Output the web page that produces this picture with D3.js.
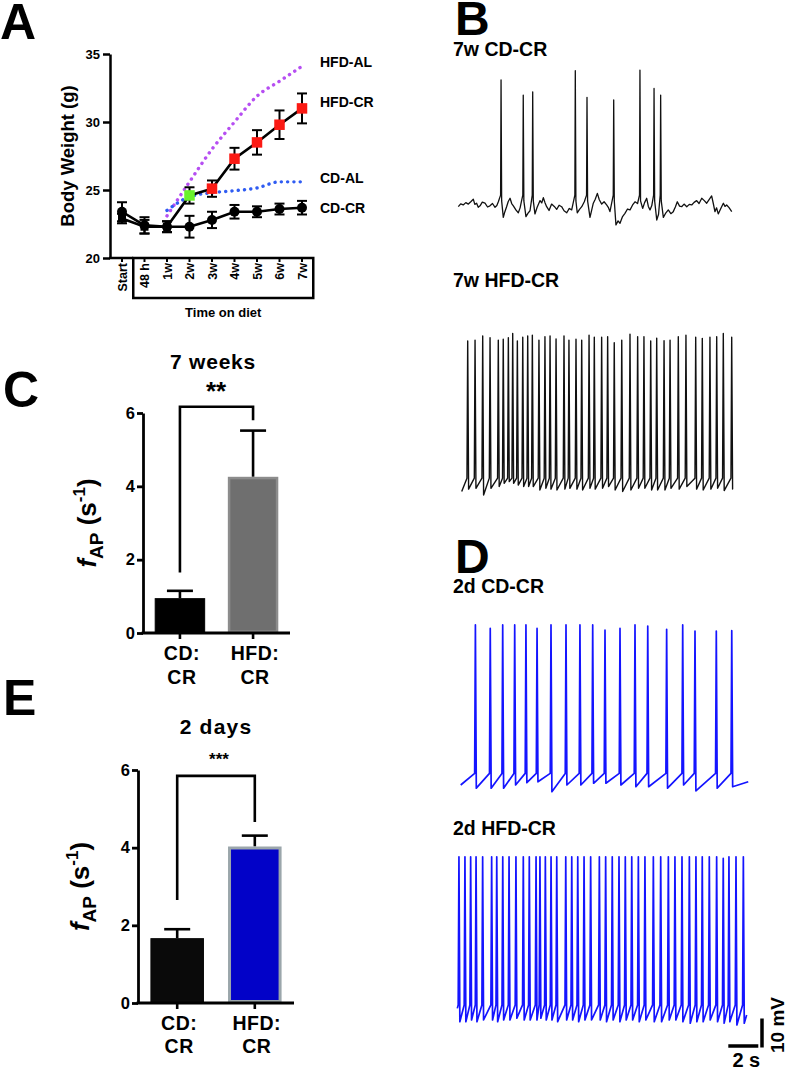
<!DOCTYPE html>
<html><head><meta charset="utf-8">
<script src="https://cdn.jsdelivr.net/npm/d3@7"></script>
<style>
body{margin:0;background:#fff}
svg{display:block}
text{font-family:"Liberation Sans",Arial,Helvetica,sans-serif;font-weight:bold;fill:#000}
</style>
</head><body>
<svg id="fig" width="787" height="1070"></svg>
<script>
// ---------------- DATA ----------------
// Panel A: body weight (g)
const timePoints = ["Start","48 h","1w","2w","3w","4w","5w","6w","7w"];
const weightTicks = [20,25,30,35];
const cdcrWeight  = [23.4,22.4,22.3,22.3,22.8,23.4,23.4,23.6,23.7];
const cdcrSEM     = [0.7,0.6,0.4,0.8,0.6,0.5,0.4,0.4,0.5];
const hfdcrWeight = [22.9,22.3,22.3,24.6,25.1,27.3,28.5,29.8,31.0];
const hfdcrSEM    = [0.35,0.5,0.4,0.6,0.6,0.8,0.9,1.05,1.1];
const hfdalWeight = [null,null,23.1,25.6,28.0,30.0,31.9,33.0,34.1];
const cdalWeight  = [null,null,23.5,24.5,24.8,24.95,25.15,25.6,25.6];
const seriesNames = ["HFD-AL","HFD-CR","CD-AL","CD-CR"];
const seriesNameAt = [34.45,31.5,25.85,23.7];

// Panels C & E: firing frequency (s^-1)
const groupLines = [["CD:","CR"],["HFD:","CR"]];
const rateTicks = [0,2,4,6];
const weeks7Mean = [0.95,4.26];
const weeks7SEM  = [0.2,1.26];
const days2Mean  = [1.67,4.03];
const days2SEM   = [0.23,0.28];
const bracket7w  = [1.65,6.17,5.8];   // left start, top, right end
const bracket2d  = [2.65,5.85,4.66];

// Panel B: 7w CD-CR trace (time s, membrane potential mV)
const cd7wBaseline = [[0,-60],[0.16,-59],[0.33,-59.4],[0.5,-58.6],[0.67,-59.1],[0.85,-58.2],[1.0,-57.4],[1.1,-59.2],[1.22,-58.8],[1.33,-60.2],[1.45,-59.7],[1.6,-58.4],[1.78,-58.8],[1.95,-60.1],[2.11,-59.7],[2.28,-58.9],[2.45,-60.2],[2.57,-59.6],[2.67,-58.3],
 [3.0,-63.7],[3.1,-61.8],[3.22,-60],[3.33,-58.2],[3.45,-57.1],[3.56,-58.9],[3.67,-59.7],[3.85,-61.2],[4.0,-62.1],[4.12,-60.4],[4.22,-57.9],
 [4.51,-63.4],[4.65,-62.2],[4.78,-61.4],[5.11,-62.5],[5.25,-60.3],[5.45,-57.9],[5.56,-58.7],[5.67,-56.9],[5.78,-58.6],[5.89,-60],[6.05,-61.3],[6.22,-59.1],[6.4,-59.9],[6.56,-60.9],[6.72,-59.5],[6.89,-60],[7.05,-61.4],[7.23,-62.1],[7.4,-60.6],[7.56,-61.1],
 [7.93,-62.1],[8.08,-60.9],[8.23,-60],[8.4,-58.3],[8.78,-63.7],[9.0,-58.8],[9.13,-57.4],[9.27,-55.4],[9.4,-57.6],[9.56,-59.1],[9.72,-58.3],[9.89,-59.4],[10.0,-60.2],[10.11,-61.7],
 [10.51,-66.3],[10.65,-64.9],[10.78,-65.7],[10.95,-63.4],[11.11,-62.3],[11.28,-60.8],[11.45,-61.1],[11.62,-59.4],[11.78,-58.3],[11.95,-58.9],
 [12.29,-60.6],[12.42,-58.6],[12.56,-57.1],[12.67,-59.9],[12.78,-61.1],[12.9,-59.6],[13.23,-64.6],[13.35,-62.6],[13.67,-63.7],
 [13.84,-62.1],[14.0,-61.1],[14.17,-62.4],[14.33,-61.7],[14.47,-60.1],[14.6,-58.3],[14.75,-59.8],[14.89,-60],[15.05,-59.1],[15.23,-60],[15.4,-59.2],[15.56,-59.4],[15.72,-58.5],
 [15.89,-57.9],[16.05,-58.9],[16.23,-57.1],[16.4,-57.9],[16.56,-58.8],[16.72,-57.6],[16.89,-56.3],[17.0,-58.9],[17.11,-61.7],[17.22,-60.4],[17.33,-62.5],[17.5,-60.6],
 [17.67,-58.8],[17.78,-59.9],[17.89,-59.4],[18.05,-60.3],[18.23,-61.7]];
const cd7wSpikeT = [2.85,4.33,4.96,7.8,8.58,10.36,12.11,13.05,13.49];
const cd7wSpikeV = [-16.3,-21.5,-20.4,-13.1,-22.3,-23.2,-12.9,-19.2,-21.5];

// Panel B: 7w HFD-CR trace
const hfd7wSpikeT = [0.40,0.89,1.40,1.89,2.44,2.77,3.11,3.40,3.71,4.07,4.40,4.71,5.15,5.55,5.89,6.29,6.82,7.15,7.62,8.00,8.49,8.84,9.33,9.73,10.17,10.67,11.22,11.73,12.15,12.60,13.00,13.49,13.89,14.44,14.95,15.60,16.04,16.55,17.00,17.44,18.0];
const hfd7wSpikeV = [-9.2,-8.9,-7.5,-8.1,-8.9,-8.6,-8.1,-6.6,-9.2,-7.9,-7.5,-7.2,-8.9,-7.7,-7.5,-8.5,-7.5,-8.9,-8.6,-8.9,-7.2,-7.9,-7.9,-7.7,-9.8,-8.9,-6.9,-7.7,-7.7,-9.2,-8.2,-9.1,-8.9,-7.7,-7.2,-7.9,-8.3,-7.9,-7.7,-6.6,-7.9];
const hfd7wTroughV = [-60.3,-60.0,-62.3,-60.0,-59.4,-58.3,-57.7,-58.3,-58.9,-59.4,-59.4,-59.4,-60.6,-60.0,-60.3,-60.6,-60.3,-60.0,-60.3,-60.6,-60.0,-60.3,-60.0,-59.4,-60.6,-61.1,-60.6,-60.0,-60.0,-60.6,-60.6,-60.6,-60.0,-60.3,-59.4,-60.3,-60.6,-60.3,-60.0,-60.8,-60.3];

// Panel D: 2d CD-CR trace
const cd2dSpikeT = [0.98,1.97,2.8,3.6,4.35,5.09,6.02,7.02,7.95,8.8,9.62,10.62,11.62,12.47,13.73,14.8,15.62,17.04,18.07];
const cd2dSpikeV = [-4.8,-6.0,-4.8,-4.8,-4.8,-6.0,-4.8,-4.8,-4.8,-4.8,-6.6,-6.0,-4.8,-5.2,-6.3,-4.8,-6.9,-6.9,-6.8];
const cd2dTroughV = [-61.1,-61.1,-61.1,-60,-59.2,-58.9,-62.3,-60,-60,-59.4,-59.4,-60,-60.6,-60.6,-61.1,-60,-62,-61.1,-60.6];

// Panel D: 2d HFD-CR trace
const hfd2dSpikeT = [0.11,0.51,0.89,1.25,1.69,2.29,2.63,3.03,3.45,3.91,4.40,4.80,5.25,5.51,5.87,6.25,6.63,7.23,7.63,8.03,8.45,8.89,9.47,9.89,10.33,10.78,11.2,11.63,12.07,12.51,13.07,13.56,14.07,14.51,14.98,15.47,15.91,16.33,16.8,17.29,17.73,18.11,18.58,19.07];
const hfd2dSpikeV = [-3.7,-3.7,-3.7,-3.7,-3.7,-3.7,-3.7,-3.7,-3.7,-3.7,-3.7,-3.7,-3.7,-3.7,-3.7,-3.7,-3.7,-3.7,-3.7,-3.7,-3.7,-3.7,-3.7,-3.7,-3.7,-3.7,-3.7,-3.7,-3.7,-3.7,-3.7,-3.7,-3.7,-3.7,-3.7,-3.7,-3.7,-3.7,-3.7,-3.7,-4.3,-3.7,-3.7,-3.7];
const hfd2dTroughV = [-60.6,-60.6,-60.0,-60.6,-60.0,-60.0,-60.6,-60.0,-60.0,-59.4,-60.0,-60.0,-60.0,-59.4,-60.0,-60.0,-60.6,-60.0,-60.0,-60.6,-60.0,-60.0,-60.0,-60.6,-60.0,-60.6,-60.0,-60.0,-60.6,-60.0,-60.6,-60.6,-60.0,-60.0,-60.6,-61.1,-60.6,-60.6,-60.0,-60.6,-61.1,-60.6,-61.7,-61.1];

const traceTitles = ["7w CD-CR","7w HFD-CR","2d CD-CR","2d HFD-CR"];
const scaleBarTime = 2;   // s
const scaleBarVolt = 10;  // mV

// ---------------- DRAWING ----------------
const svg = d3.select("#fig");
const BLK = "#000";

// panel letters
[["A",0,39,50],["B",455,35,48],["C",3,407,50],["D",455,573,48],["E",3,715,50]].forEach(([t,x,y,s])=>{
  svg.append("text").attr("x",x).attr("y",y).attr("font-size",s).text(t);
});

// ===== Panel A =====
(function(){
  const g = svg.append("g");
  const xA = d3.scalePoint().domain(timePoints).range([122,302]);
  const yA = d3.scaleLinear().domain([20,35]).range([258,54]);
  const axX = 110;
  const yAx = g.append("g").attr("transform",`translate(${axX},0)`)
    .call(d3.axisLeft(yA).tickValues(weightTicks).tickSize(7).tickSizeOuter(0).tickPadding(3));
  yAx.select(".domain").attr("stroke-width",2.5);
  yAx.selectAll(".tick line").attr("stroke-width",2.5);
  yAx.selectAll("text").attr("font-size",13).attr("font-family",null).attr("font-weight","bold");

  const step = xA.step();
  const boxL = (xA(timePoints[0])+xA(timePoints[1]))/2;
  const boxR = xA(timePoints[timePoints.length-1])+step/2;
  const y0 = yA(20);
  g.append("line").attr("x1",axX-1).attr("x2",boxL).attr("y1",y0).attr("y2",y0).attr("stroke",BLK).attr("stroke-width",2.5);
  g.append("rect").attr("x",boxL).attr("y",y0).attr("width",boxR-boxL).attr("height",40)
    .attr("fill","none").attr("stroke",BLK).attr("stroke-width",2.5);
  timePoints.forEach(p=>{
    g.append("line").attr("x1",xA(p)).attr("x2",xA(p)).attr("y1",y0).attr("y2",y0+4).attr("stroke",BLK).attr("stroke-width",2);
    g.append("text").attr("transform",`translate(${xA(p)+4.5},${y0+5}) rotate(-90)`)
      .attr("text-anchor","end").attr("font-size",12.5).text(p);
  });
  g.append("text").attr("x",(boxL+boxR)/2).attr("y",317).attr("text-anchor","middle").attr("font-size",13).text("Time on diet");
  g.append("text").attr("transform",`translate(74,${(yA(20)+yA(35))/2}) rotate(-90)`)
    .attr("text-anchor","middle").attr("font-size",18.5).text("Body Weight (g)");

  // dotted AL curves
  const dotted = (vals,color)=>{
    const line = d3.line().defined(d=>d[1]!=null).x(d=>xA(d[0])).y(d=>yA(d[1])).curve(d3.curveMonotoneX);
    g.append("path").attr("d",line(timePoints.map((p,i)=>[p,vals[i]])))
      .attr("fill","none").attr("stroke",color).attr("stroke-width",3.4)
      .attr("stroke-dasharray","0.1 6.2").attr("stroke-linecap","round");
  };
  dotted(hfdalWeight,"#b64ef2");
  dotted(cdalWeight,"#2f5cf2");

  const line = d3.line().x(d=>xA(d[0])).y(d=>yA(d[1]));
  const drawSeries = (vals,sem)=>{
    g.append("path").attr("d",line(timePoints.map((p,i)=>[p,vals[i]])))
      .attr("fill","none").attr("stroke",BLK).attr("stroke-width",2.6);
    timePoints.forEach((p,i)=>{
      const x=xA(p), hi=yA(vals[i]+sem[i]), lo=yA(vals[i]-sem[i]);
      g.append("line").attr("x1",x).attr("x2",x).attr("y1",hi).attr("y2",lo).attr("stroke",BLK).attr("stroke-width",2);
      [hi,lo].forEach(yy=>g.append("line").attr("x1",x-5).attr("x2",x+5).attr("y1",yy).attr("y2",yy).attr("stroke",BLK).attr("stroke-width",2));
    });
  };
  drawSeries(hfdcrWeight,hfdcrSEM);
  drawSeries(cdcrWeight,cdcrSEM);
  timePoints.forEach((p,i)=>{
    g.append("circle").attr("cx",xA(p)).attr("cy",yA(cdcrWeight[i])).attr("r",5).attr("fill",BLK);
  });
  timePoints.forEach((p,i)=>{
    const s = i<3?8:10.5;
    const c = i<3?BLK:(i===3?"#6af22c":"#fb1a14");
    g.append("rect").attr("x",xA(p)-s/2).attr("y",yA(hfdcrWeight[i])-s/2).attr("width",s).attr("height",s).attr("fill",c);
  });
  seriesNames.forEach((n,i)=>{
    g.append("text").attr("x",320).attr("y",yA(seriesNameAt[i])).attr("dy","0.36em").attr("font-size",14).text(n);
  });
})();

// ===== Bar panels C and E =====
function barPanel(o){
  const g = svg.append("g");
  const x = d3.scaleBand().domain(groupLines.map(d=>d[0])).range(o.xr).paddingInner(0.31).paddingOuter(0.16);
  const y = d3.scaleLinear().domain([0,6]).range(o.yr);
  const ax = g.append("g").attr("transform",`translate(${o.xr[0]},0)`)
    .call(d3.axisLeft(y).tickValues(rateTicks).tickFormat(d3.format("d")).tickSize(6).tickSizeOuter(0).tickPadding(2));
  ax.select(".domain").attr("stroke-width",2.8);
  ax.selectAll(".tick line").attr("stroke-width",2.8);
  ax.selectAll("text").attr("font-size",16.5).attr("font-family",null).attr("font-weight","bold");
  groupLines.forEach((gl,i)=>{
    const k=gl[0], m=o.mean[i], e=o.sem[i], cx=x(k)+x.bandwidth()/2;
    g.append("line").attr("x1",cx).attr("x2",cx).attr("y1",y(m)).attr("y2",y(m+e)).attr("stroke",BLK).attr("stroke-width",2.6);
    g.append("line").attr("x1",cx-13).attr("x2",cx+13).attr("y1",y(m+e)).attr("y2",y(m+e)).attr("stroke",BLK).attr("stroke-width",2.6);
    const sw = o.strokeW[i];
    g.append("rect").attr("x",x(k)+sw/2).attr("y",y(m)+sw/2).attr("width",x.bandwidth()-sw).attr("height",y(0)-y(m)-sw)
      .attr("fill",o.fills[i]).attr("stroke",o.strokes[i]).attr("stroke-width",sw);
    g.append("line").attr("x1",cx).attr("x2",cx).attr("y1",y(0)).attr("y2",y(0)+6).attr("stroke",BLK).attr("stroke-width",2.6);
    gl.forEach((t,j)=>g.append("text").attr("x",cx+2).attr("y",o.lab[j]).attr("text-anchor","middle")
      .attr("font-size",19.5).attr("letter-spacing",0.5).text(t));
  });
  g.append("line").attr("x1",o.xr[0]-1.4).attr("x2",o.xr[1]).attr("y1",y(0)).attr("y2",y(0)).attr("stroke",BLK).attr("stroke-width",2.8);
  const lx = x(groupLines[0][0])+x.bandwidth()/2, rx = x(groupLines[1][0])+x.bandwidth()/2;
  const b=o.bracket;
  g.append("path").attr("d",`M${lx},${y(b[0])}V${y(b[1])}H${rx}V${y(b[2])}`)
    .attr("fill","none").attr("stroke",BLK).attr("stroke-width",2.6);
  g.append("text").attr("x",o.titleX).attr("y",o.titleY).attr("text-anchor","middle").attr("font-size",21).attr("letter-spacing",o.ls).text(o.title);
  g.append("text").attr("x",o.titleX+3).attr("y",o.starY).attr("text-anchor","middle").attr("font-size",o.starSize).text(o.stars);
  const t = g.append("text").attr("transform",`translate(${o.ylx},${(o.yr[0]+o.yr[1])/2}) rotate(-90)`)
    .attr("text-anchor","middle").attr("font-size",26);
  t.append("tspan").attr("font-style","italic").text("f");
  t.append("tspan").attr("font-size",19).attr("dy",6.5).text("AP");
  t.append("tspan").attr("dy",-6.5).text(" (s");
  t.append("tspan").attr("font-size",17).attr("dy",-11).text("-1");
  t.append("tspan").attr("dy",11).text(")");
}
barPanel({xr:[143,290],yr:[633,413],mean:weeks7Mean,sem:weeks7SEM,fills:["#000","#6f6f6f"],strokes:["#000","#8c8c8c"],strokeW:[1,2.5],
  lab:[660,684],bracket:bracket7w,title:"7 weeks",titleX:213,titleY:369,ls:0.8,stars:"**",starY:400,starSize:26,ylx:96});
barPanel({xr:[138,294],yr:[1003,770],mean:days2Mean,sem:days2SEM,fills:["#0a0a0a","#0202c8"],strokes:["#0a0a0a","#9ba6ab"],strokeW:[1,3],
  lab:[1030,1053],bracket:bracket2d,title:"2 days",titleX:216,titleY:734,ls:1.2,stars:"***",starY:765,starSize:17,ylx:89});

// ===== Traces B and D =====
const pxPerSec = 15, pxPerMV = 2.9;
function traceScales(x0,dur,yRef){
  return {
    x: d3.scaleLinear().domain([0,dur]).range([x0,x0+dur*pxPerSec]),
    y: d3.scaleLinear().domain([-60,0]).range([yRef,yRef-60*pxPerMV])
  };
}
function regularPoints(spT,spV,trV,thr,startV,endV,dur){
  const pts=[[0,startV]];
  spT.forEach((t,i)=>{ pts.push([t-0.05,thr]); pts.push([t,spV[i]]); pts.push([t+0.06,trV[i]]); });
  pts.push([dur,endV]);
  return pts;
}
function drawTrace(pts,sc,color,w){
  const line=d3.line().x(d=>sc.x(d[0])).y(d=>sc.y(d[1]));
  svg.append("path").attr("d",line(pts)).attr("fill","none").attr("stroke",color).attr("stroke-width",w).attr("stroke-linejoin","round");
}
(function(){
  const sc = traceScales(458.3,18.23,206.7);
  const pts = cd7wBaseline.slice();
  cd7wSpikeT.forEach((t,i)=>{ pts.push([t-0.03,-56]); pts.push([t,cd7wSpikeV[i]]); pts.push([t+0.04,-58]); });
  pts.sort((a,b)=>a[0]-b[0]);
  drawTrace(pts,sc,"#111",1.3);
})();
drawTrace(regularPoints(hfd7wSpikeT,hfd7wSpikeV,hfd7wTroughV,-56.5,-61.1,-60.3,18.07),traceScales(461.7,18.07,488.3),"#111",1.4);
drawTrace(regularPoints(cd2dSpikeT,cd2dSpikeV,cd2dTroughV,-56,-60,-58.9,19.17),traceScales(460.7,19.17,785),"#1414ff",1.7);
const scHfd2d = traceScales(457.3,19.29,1020);
drawTrace(regularPoints(hfd2dSpikeT,hfd2dSpikeV,hfd2dTroughV,-54.8,-56,-58.3,19.29),scHfd2d,"#1414ff",1.7);

[[453,56],[453,287],[453,593],[453,835]].forEach((p,i)=>{
  svg.append("text").attr("x",p[0]).attr("y",p[1]).attr("font-size",19.5).text(traceTitles[i]);
});

// scale bars (using 2d HFD-CR trace scales)
(function(){
  const sx=scHfd2d.x, sy=scHfd2d.y;
  const w = sx(scaleBarTime)-sx(0), h = sy(-60)-sy(-60+scaleBarVolt);
  const xEnd = 758.3, yb = 1046;
  svg.append("line").attr("x1",xEnd-w).attr("x2",xEnd).attr("y1",yb).attr("y2",yb).attr("stroke",BLK).attr("stroke-width",3.5);
  svg.append("line").attr("x1",xEnd+3.7).attr("x2",xEnd+3.7).attr("y1",yb+1.5).attr("y2",yb+1.5-h).attr("stroke",BLK).attr("stroke-width",3.5);
  svg.append("text").attr("x",xEnd-w/2+3).attr("y",1067).attr("text-anchor","middle").attr("font-size",20).text(scaleBarTime+" s");
  svg.append("text").attr("transform",`translate(784,1025) rotate(-90)`).attr("text-anchor","middle").attr("font-size",19).text(scaleBarVolt+" mV");
})();
</script>
</body></html>
